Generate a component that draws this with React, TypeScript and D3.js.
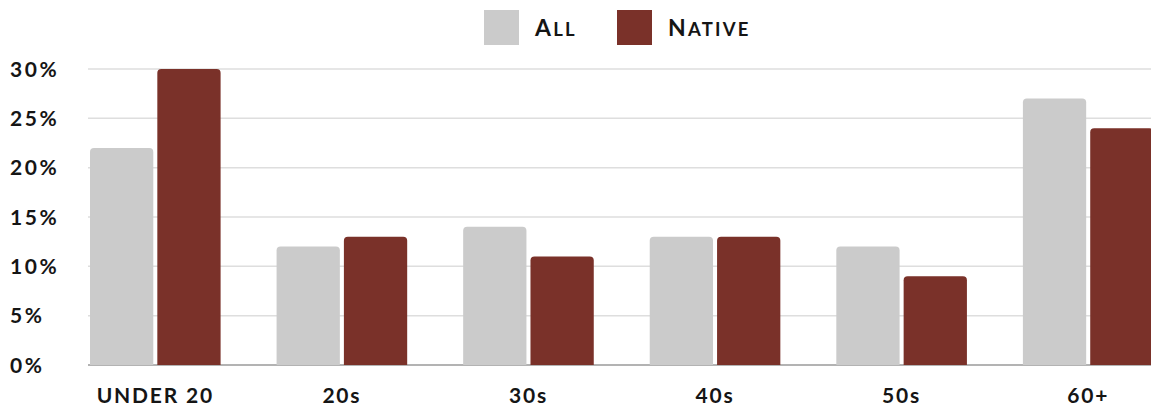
import React from "react";
import * as d3 from "d3";

const categories = ["UNDER 20", "20s", "30s", "40s", "50s", "60+"];
const seriesNames = ["All", "Native"];
const allValues = [22, 12, 14, 13, 12, 27];
const nativeValues = [30, 13, 11, 13, 9, 24];
const yTicks = [0, 5, 10, 15, 20, 25, 30];
const colors = ["#cbcbcb", "#7a3129"];

const W = 1151;
const H = 408;
const FONT = "Lato, 'DejaVu Sans', sans-serif";

function topRounded(x: number, y: number, w: number, h: number, r: number) {
  const rr = Math.min(r, h, w / 2);
  return `M${x},${y + h}V${y + rr}Q${x},${y} ${x + rr},${y}H${x + w - rr}Q${x + w},${y} ${x + w},${y + rr}V${y + h}Z`;
}

export default function App() {
  const x0 = d3.scaleBand<string>().domain(categories).range([90, 1153.5]).paddingInner(0.3).paddingOuter(0);
  const x1 = d3.scaleBand<string>().domain(seriesNames).range([0, x0.bandwidth()]).paddingInner(0.06);
  const y = d3.scaleLinear().domain([0, 30]).range([365, 69]);
  const series = [allValues, nativeValues];

  return (
    <svg width={W} height={H} style={{ position: "fixed", left: 0, top: 0, background: "#fff" }} fontFamily={FONT}>
      {yTicks.map((t) => (
        <line key={t} x1={88} x2={W} y1={y(t)} y2={y(t)} stroke={t === 0 ? "#9a9a9a" : "#dedede"} strokeWidth={1.5} />
      ))}
      {yTicks.map((t) => (
        <text key={"l" + t} x={10} y={y(t)} dy="0.36em" fontSize={21} fontWeight={700} fill="#151515" letterSpacing={2.6}>
          {t}%
        </text>
      ))}
      {categories.map((c, i) => (
        <g key={c}>
          {seriesNames.map((s, j) => {
            const v = series[j][i];
            const bx = (x0(c) as number) + (x1(s) as number);
            const by = y(v);
            return <path key={s} d={topRounded(bx, by, x1.bandwidth(), y(0) - by, 4)} fill={colors[j]} />;
          })}
        </g>
      ))}
      {categories.map((c) => (
        <text key={"x" + c} x={(x0(c) as number) + x0.bandwidth() / 2} y={403} textAnchor="middle" fontSize={21} fontWeight={700} fill="#151515" letterSpacing={1.8}>
          {c}
        </text>
      ))}
      {seriesNames.map((s, j) => (
        <g key={"lg" + s} transform={`translate(${484 + j * 133},10)`}>
          <rect width={35} height={35} fill={colors[j]} />
          <text x={51} y={26} fontWeight={700} fill="#151515" letterSpacing={2.2}>
            <tspan fontSize={23}>{s.charAt(0).toUpperCase()}</tspan>
            <tspan fontSize={18.5}>{s.slice(1).toUpperCase()}</tspan>
          </text>
        </g>
      ))}
    </svg>
  );
}
